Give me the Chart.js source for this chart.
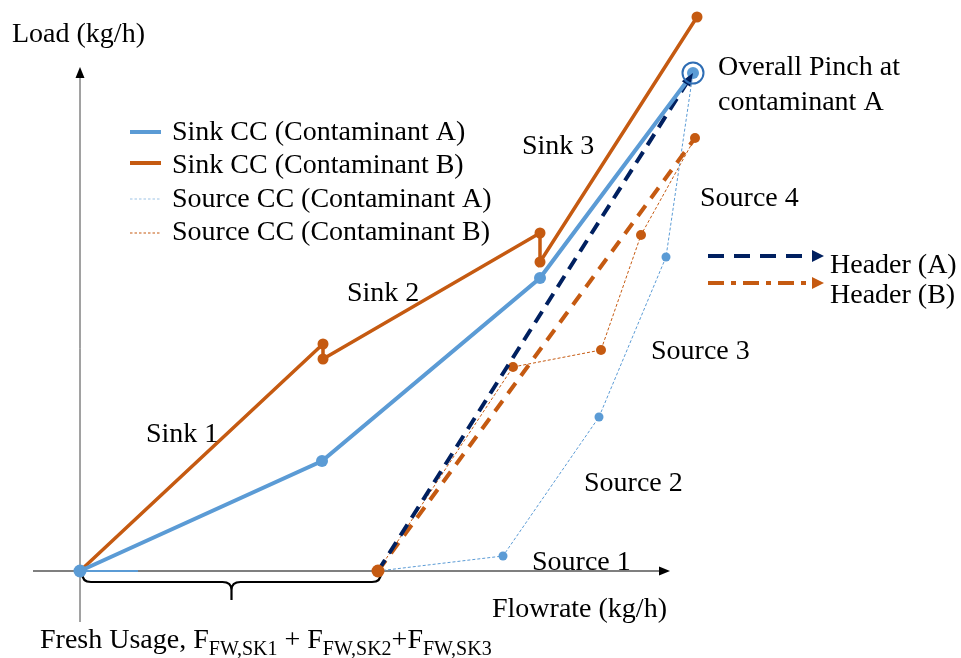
<!DOCTYPE html>
<html>
<head>
<meta charset="utf-8">
<script src="https://cdn.jsdelivr.net/npm/chart.js@4/dist/chart.umd.min.js"></script>
<style>
  html, body { margin: 0; padding: 0; background: #ffffff; }
  #wrap { width: 961px; height: 658px; position: relative; }
</style>
</head>
<body>
<div id="wrap"><canvas id="cc" width="961" height="658"></canvas></div>
<script>
// Composite curves (flowrate in kg/h, load in kg/h)
const sinkAFlow = [0, 242, 460, 613];
const sinkALoad = [0, 110, 293, 498];
const sinkBFlow = [0, 243, 243, 460, 460, 617];
const sinkBLoad = [0, 227, 212, 338, 309, 554];
const sourceAFlow = [298, 423, 519, 586, 613];
const sourceALoad = [0, 15, 154, 314, 498];
const sourceBFlow = [298, 433, 521, 561, 615];
const sourceBLoad = [0, 204, 221, 336, 433];
const headerAFlow = [298, 613];
const headerALoad = [0, 498];
const headerBFlow = [298, 615];
const headerBLoad = [0, 433];
const freshFlow = [0, 298];
const pinchFlow = 613;
const pinchLoad = 498;

const seriesNames = ['Sink CC (Contaminant A)', 'Sink CC (Contaminant B)',
                     'Source CC (Contaminant A)', 'Source CC (Contaminant B)'];
const headerNames = ['Header (A)', 'Header (B)'];
const sinkLabels = ['Sink 1', 'Sink 2', 'Sink 3'];
const sourceLabels = ['Source 1', 'Source 2', 'Source 3', 'Source 4'];
const pinchLabel = ['Overall Pinch at', 'contaminant A'];
const xTitle = 'Flowrate (kg/h)';
const yTitle = 'Load (kg/h)';

const BLUE = '#5B9BD5', ORANGE = '#C55A11', NAVY = '#002060';
const FONT = '28px "Liberation Serif", "Times New Roman", serif';
const SUBFONT = '20px "Liberation Serif", "Times New Roman", serif';

const pts = (xs, ys) => xs.map((x, i) => ({ x: x, y: ys[i] }));

function arrowHead(ctx, x0, y0, x1, y1, len, half, color) {
  const a = Math.atan2(y1 - y0, x1 - x0);
  ctx.save();
  ctx.fillStyle = color;
  ctx.translate(x1, y1);
  ctx.rotate(a);
  ctx.beginPath();
  ctx.moveTo(0, 0);
  ctx.lineTo(-len, -half);
  ctx.lineTo(-len, half);
  ctx.closePath();
  ctx.fill();
  ctx.restore();
}

// axes with arrows and the fresh-water brace, drawn under the curves
const axesPlugin = {
  id: 'axesPlugin',
  beforeDatasetsDraw(chart) {
    const { ctx, scales: { x, y } } = chart;
    const ox = x.getPixelForValue(0), oy = y.getPixelForValue(0);
    const xEnd = x.getPixelForValue(590), xStart = x.getPixelForValue(-47);
    const yTop = y.getPixelForValue(504), yBottom = y.getPixelForValue(-51);
    ctx.save();
    ctx.strokeStyle = '#000';
    ctx.lineWidth = 1.2;
    ctx.beginPath();
    ctx.moveTo(xStart, oy); ctx.lineTo(xEnd - 8, oy);
    ctx.stroke();
    arrowHead(ctx, xStart, oy, xEnd, oy, 11, 4.5, '#000');
    ctx.strokeStyle = '#444';
    ctx.lineWidth = 1;
    ctx.beginPath();
    ctx.moveTo(ox, yBottom); ctx.lineTo(ox, yTop + 8);
    ctx.stroke();
    arrowHead(ctx, ox, yBottom, ox, yTop, 11, 4.5, '#000');

    // brace under the fresh water range
    const b0 = x.getPixelForValue(freshFlow[0]) + 2;
    const b1 = x.getPixelForValue(freshFlow[1]) + 3;
    const bm = (b0 + b1) / 2;
    const top = oy + 2, mid = oy + 11, tip = oy + 29;
    ctx.strokeStyle = '#000';
    ctx.lineWidth = 2.2;
    ctx.beginPath();
    ctx.moveTo(b0, top);
    ctx.quadraticCurveTo(b0, mid, b0 + 9, mid);
    ctx.lineTo(bm - 9, mid);
    ctx.quadraticCurveTo(bm, mid, bm, mid + 8);
    ctx.lineTo(bm, tip);
    ctx.moveTo(bm, mid + 8);
    ctx.quadraticCurveTo(bm, mid, bm + 9, mid);
    ctx.lineTo(b1 - 9, mid);
    ctx.quadraticCurveTo(b1, mid, b1, top);
    ctx.stroke();
    ctx.restore();
  }
};

// arrowheads on the headers, pinch marker, legend and annotations
const annotPlugin = {
  id: 'annotPlugin',
  afterDatasetsDraw(chart) {
    const { ctx, scales: { x, y } } = chart;
    ctx.save();
    // header arrowheads
    arrowHead(ctx, x.getPixelForValue(headerAFlow[0]), y.getPixelForValue(headerALoad[0]),
              x.getPixelForValue(headerAFlow[1]), y.getPixelForValue(headerALoad[1]), 13, 5, NAVY);
    // origin & fresh-usage end markers
    ctx.fillStyle = BLUE;
    ctx.beginPath(); ctx.arc(x.getPixelForValue(0), y.getPixelForValue(0), 6.5, 0, Math.PI * 2); ctx.fill();
    ctx.fillStyle = ORANGE;
    ctx.beginPath(); ctx.arc(x.getPixelForValue(freshFlow[1]), y.getPixelForValue(0), 6.5, 0, Math.PI * 2); ctx.fill();

    // pinch circle
    const px = x.getPixelForValue(pinchFlow), py = y.getPixelForValue(pinchLoad);
    ctx.strokeStyle = '#2E6DB4';
    ctx.lineWidth = 2;
    ctx.beginPath(); ctx.arc(px, py, 10.5, 0, Math.PI * 2); ctx.stroke();

    // legend
    ctx.lineCap = 'butt';
    const lg = [
      { y: 132, color: BLUE, w: 4, dash: [] },
      { y: 163, color: ORANGE, w: 4, dash: [] },
      { y: 199, color: '#9DC3E6', w: 1.2, dash: [2.5, 2] },
      { y: 233, color: ORANGE, w: 1.2, dash: [2.5, 2] }
    ];
    const lgBase = [140, 173, 207, 240];
    lg.forEach((l, i) => {
      ctx.strokeStyle = l.color; ctx.lineWidth = l.w; ctx.setLineDash(l.dash);
      ctx.beginPath(); ctx.moveTo(130, l.y); ctx.lineTo(161, l.y); ctx.stroke();
    });
    ctx.setLineDash([]);
    ctx.fillStyle = '#000';
    ctx.font = FONT;
    ctx.textBaseline = 'alphabetic';
    seriesNames.forEach((s, i) => ctx.fillText(s, 172, lgBase[i]));

    // header legend
    ctx.lineWidth = 4;
    ctx.strokeStyle = NAVY; ctx.setLineDash([16, 10]);
    ctx.beginPath(); ctx.moveTo(708, 256); ctx.lineTo(812, 256); ctx.stroke();
    ctx.strokeStyle = ORANGE; ctx.setLineDash([16, 7, 5, 7]);
    ctx.beginPath(); ctx.moveTo(708, 283); ctx.lineTo(812, 283); ctx.stroke();
    ctx.setLineDash([]);
    arrowHead(ctx, 708, 256, 824, 256, 12, 6, NAVY);
    arrowHead(ctx, 708, 283, 824, 283, 12, 6, ORANGE);
    ctx.fillStyle = '#000';
    ctx.fillText(headerNames[0], 830, 273);
    ctx.fillText(headerNames[1], 830, 303);

    // stream labels
    const sinkPos = [[146, 442], [347, 301], [522, 154]];
    sinkLabels.forEach((s, i) => ctx.fillText(s, sinkPos[i][0], sinkPos[i][1]));
    const srcPos = [[532, 570], [584, 491], [651, 359], [700, 206]];
    sourceLabels.forEach((s, i) => ctx.fillText(s, srcPos[i][0], srcPos[i][1]));
    ctx.fillText(pinchLabel[0], 718, 75);
    ctx.fillText(pinchLabel[1], 718, 110);

    // axis titles
    ctx.fillText(yTitle, 12, 42);
    ctx.fillText(xTitle, 492, 617);

    // fresh usage expression with subscripts
    const parts = [['Fresh Usage, F', 0], ['FW,SK1', 1], [' + F', 0], ['FW,SK2', 1], ['+F', 0], ['FW,SK3', 1]];
    let cx = 40;
    parts.forEach(([t, sub]) => {
      ctx.font = sub ? SUBFONT : FONT;
      ctx.fillText(t, cx, sub ? 655 : 648);
      cx += ctx.measureText(t).width;
    });
    ctx.restore();
  }
};

new Chart(document.getElementById('cc'), {
  type: 'line',
  data: {
    datasets: [
      { label: seriesNames[0], data: pts(sinkAFlow, sinkALoad), borderColor: BLUE, backgroundColor: BLUE,
        borderWidth: 4, pointRadius: [0, 6, 6, 6], pointBorderWidth: 0, order: 1 },
      { label: seriesNames[1], data: pts(sinkBFlow, sinkBLoad), borderColor: ORANGE, backgroundColor: ORANGE,
        borderWidth: 3.5, pointRadius: [0, 5.5, 5.5, 5.5, 5.5, 5.5], pointBorderWidth: 0, order: 2 },
      { label: 'fresh', data: pts([0, 58], [0, 0]), borderColor: BLUE, borderWidth: 2,
        pointRadius: 0, order: 3 },
      { label: headerNames[0], data: pts(headerAFlow, headerALoad), borderColor: NAVY,
        borderWidth: 4, borderDash: [13, 8], pointRadius: 0, order: 4 },
      { label: headerNames[1], data: pts(headerBFlow, headerBLoad), borderColor: ORANGE,
        borderWidth: 4, borderDash: [13, 9], pointRadius: 0, order: 5 },
      { label: seriesNames[2], data: pts(sourceAFlow, sourceALoad), borderColor: BLUE, backgroundColor: BLUE,
        borderWidth: 1, borderDash: [3, 2], pointRadius: [0, 4.5, 4.5, 4.5, 4.5], pointBorderWidth: 0, order: 6 },
      { label: seriesNames[3], data: pts(sourceBFlow, sourceBLoad), borderColor: ORANGE, backgroundColor: ORANGE,
        borderWidth: 1, borderDash: [3, 2], pointRadius: [0, 5, 5, 5, 5], pointBorderWidth: 0, order: 7 }
    ]
  },
  options: {
    responsive: false,
    animation: false,
    events: [],
    layout: { padding: 0, autoPadding: false },
    scales: {
      x: { type: 'linear', min: -80, max: 881, display: false },
      y: { type: 'linear', min: -87, max: 571, display: false }
    },
    plugins: { legend: { display: false }, tooltip: { enabled: false } },
    elements: { line: { tension: 0, fill: false } }
  },
  plugins: [axesPlugin, annotPlugin]
});
</script>
</body>
</html>
